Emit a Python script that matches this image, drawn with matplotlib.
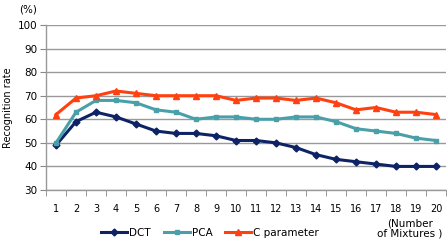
import matplotlib.pyplot as plt
import numpy as np

mixtures = list(range(1, 21))
dct = [49, 59, 63, 61, 58, 55, 54, 54, 53, 51, 51, 50, 48, 45, 43, 42, 41, 40, 40, 40]
pca = [50, 63, 68, 68, 67, 64, 63, 60, 61, 61, 60, 60, 61, 61, 59, 56, 55, 54, 52, 51]
cparam = [62, 69, 70, 72, 71, 70, 70, 70, 70, 68, 69, 69, 68, 69, 67, 64, 65, 63, 63, 62]

fig = plt.figure(figsize=(4.47, 2.48), dpi=100)
ax = fig.add_axes([46 / 447, 1 - 190 / 248, 400 / 447, 165 / 248])

ax.plot(mixtures, dct, color="#0D2366", marker="D", markersize=3.5, lw=2.2, label="DCT")
ax.plot(mixtures, pca, color="#4AA0A8", marker="s", markersize=3.5, lw=2.2, label="PCA")
ax.plot(mixtures, cparam, color="#FF4010", marker="^", markersize=4.5, lw=2.2, label="C parameter")

ax.set_xlim(0.5, 20.5)
ax.set_ylim(30, 100)
ax.set_yticks(range(30, 101, 10))
ax.set_xticks(mixtures)
ax.set_xticks(np.arange(0.5, 21, 1), minor=True)
ax.tick_params(axis="x", which="major", length=0, labelsize=7, pad=10)
ax.tick_params(axis="x", which="minor", length=4, color="#888888")
ax.tick_params(axis="y", labelsize=7.5, length=4, color="#888888", pad=2)
ax.grid(axis="y", color="#999999", lw=1)
ax.set_axisbelow(True)
for s in ["top", "right"]:
    ax.spines[s].set_visible(False)
for s in ["left", "bottom"]:
    ax.spines[s].set_color("#999999")
    ax.spines[s].set_linewidth(1)

ax.set_ylabel("Recognition rate", fontsize=7)
ax.yaxis.set_label_coords(-33 / 400, 0.5)
fig.text(28 / 447, 1 - 10 / 248, "(%)", fontsize=7.5, ha="center", va="center")
fig.text(410 / 447, 1 - 229 / 248, "(Number\nof Mixtures )", fontsize=7.5, ha="center", va="center",
         linespacing=1.0)

ax.legend(loc="center", bbox_to_anchor=(210 / 447, 1 - 233 / 248), bbox_transform=fig.transFigure,
          ncol=3, frameon=False, fontsize=7.5, handlelength=2.5, columnspacing=1.2, handletextpad=0.2)

fig.savefig("out.png", dpi=100)
